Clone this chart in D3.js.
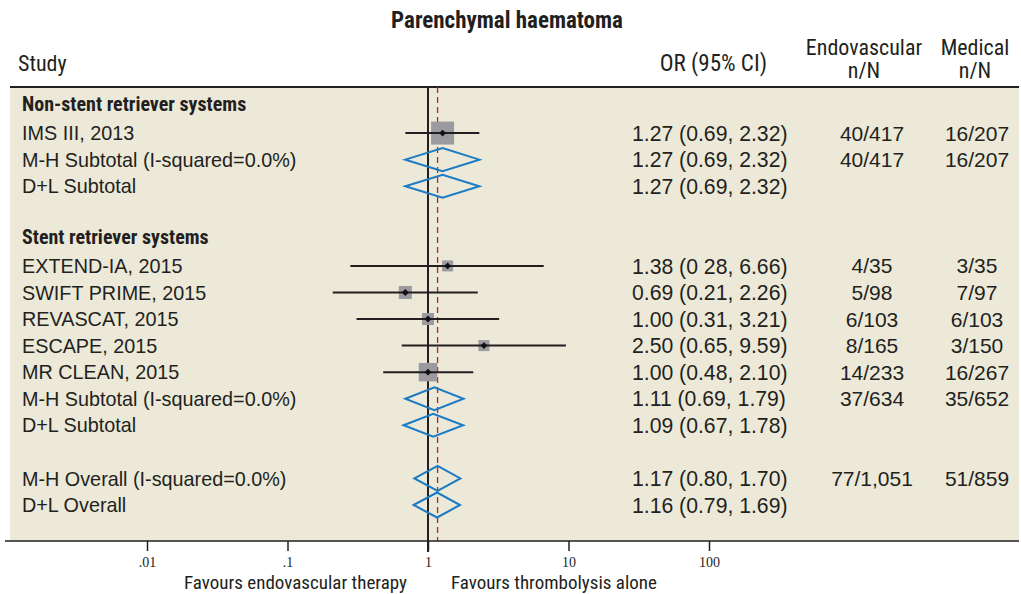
<!DOCTYPE html>
<html><head><meta charset="utf-8">
<script src="https://cdn.jsdelivr.net/npm/d3@7/dist/d3.min.js"></script>
<style>
body{margin:0;background:#fff;}
svg{display:block;}
</style></head>
<body>
<svg id="chart" width="1021" height="594"></svg>
<script>
// ---- data ----
const rowLabels = ["Non-stent retriever systems","IMS III, 2013","M-H Subtotal (I-squared=0.0%)","D+L Subtotal",
  "Stent retriever systems","EXTEND-IA, 2015","SWIFT PRIME, 2015","REVASCAT, 2015","ESCAPE, 2015","MR CLEAN, 2015",
  "M-H Subtotal (I-squared=0.0%)","D+L Subtotal","M-H Overall (I-squared=0.0%)","D+L Overall"];
const rowTypes = ["group","study","sub","sub","group","study","study","study","study","study","sub","sub","overall","overall"];
const rowSlots = [0,1,2,3,5,6,7,8,9,10,11,12,14,15];
const orValues = [null,1.27,1.27,1.27,null,1.38,0.69,1.00,2.50,1.00,1.11,1.09,1.17,1.16];
const ciLow    = [null,0.69,0.69,0.69,null,0.28,0.21,0.31,0.65,0.48,0.69,0.67,0.80,0.79];
const ciHigh   = [null,2.32,2.32,2.32,null,6.66,2.26,3.21,9.59,2.10,1.79,1.78,1.70,1.69];
const weights  = [null,37.1,null,null,null,8.5,11.9,10.1,8.5,24.0,null,null,null,null];
const orText   = ["","1.27 (0.69, 2.32)","1.27 (0.69, 2.32)","1.27 (0.69, 2.32)","","1.38 (0 28, 6.66)","0.69 (0.21, 2.26)",
  "1.00 (0.31, 3.21)","2.50 (0.65, 9.59)","1.00 (0.48, 2.10)","1.11 (0.69, 1.79)","1.09 (0.67, 1.78)","1.17 (0.80, 1.70)","1.16 (0.79, 1.69)"];
const endoText = ["","40/417","40/417","","","4/35","5/98","6/103","8/165","14/233","37/634","","77/1,051",""];
const medText  = ["","16/207","16/207","","","3/35","7/97","6/103","3/150","16/267","35/652","","51/859",""];
const tickValues = [0.01,0.1,1,10,100];
const tickLabels = [".01",".1","1","10","100"];
const overallOR = 1.17;
const title = "Parenchymal haematoma";
const favourLeft = "Favours endovascular therapy";
const favourRight = "Favours thrombolysis alone";

// ---- layout ----
const svg = d3.select("#chart");
const panel = {x0:10, x1:1019, y0:87, y1:541};
const x = d3.scaleLog().domain([0.01,100]).range([147,709]);
const y = d3.scaleLinear().domain([0,15]).range([106.5,505]);
const boxSide = d3.scaleSqrt().domain([0,37.1]).range([0,23]);

const narrow = "'Liberation Sans Narrow','Arial Narrow','Roboto Condensed','DejaVu Sans Condensed',sans-serif";
const sans = "'Liberation Sans',Arial,sans-serif";
const serif = "'Liberation Serif','Times New Roman',serif";
const textCol = "#231f20";

svg.append("rect").attr("x",panel.x0).attr("y",panel.y0).attr("width",panel.x1-panel.x0).attr("height",panel.y1-panel.y0)
  .attr("fill","#ECE9D8");
svg.append("line").attr("x1",panel.x0).attr("x2",panel.x1).attr("y1",panel.y0).attr("y2",panel.y0)
  .attr("stroke","#231f20").attr("stroke-width",2);

// title & headers
svg.append("text").attr("x",507).attr("y",28).attr("text-anchor","middle")
  .attr("font-family",narrow).attr("font-weight","bold").attr("font-size",23).attr("fill",textCol).text(title);
const hdr = svg.append("g").attr("font-family",narrow).attr("font-size",22).attr("fill",textCol);
hdr.append("text").attr("x",18).attr("y",71).text("Study");
hdr.append("text").attr("x",767).attr("y",71).attr("text-anchor","end").attr("font-size",23).text("OR (95% CI)");
hdr.append("text").attr("x",864).attr("y",55).attr("text-anchor","middle").text("Endovascular");
hdr.append("text").attr("x",864).attr("y",78).attr("text-anchor","middle").text("n/N");
hdr.append("text").attr("x",975).attr("y",55).attr("text-anchor","middle").text("Medical");
hdr.append("text").attr("x",975).attr("y",78).attr("text-anchor","middle").text("n/N");

const rows = rowLabels.map((l,i)=>({label:l,type:rowTypes[i],slot:rowSlots[i],or:orValues[i],lo:ciLow[i],hi:ciHigh[i],
  w:weights[i],ort:orText[i],endo:endoText[i],med:medText[i]}));

// reference lines
svg.append("line").attr("x1",x(1)).attr("x2",x(1)).attr("y1",panel.y0).attr("y2",panel.y1+11)
  .attr("stroke","#231f20").attr("stroke-width",2);
svg.append("line").attr("x1",x(overallOR)).attr("x2",x(overallOR)).attr("y1",panel.y0).attr("y2",panel.y1)
  .attr("stroke","#b5252b").attr("stroke-width",1.3).attr("stroke-dasharray","6,4");

// labels
const lab = svg.append("g").attr("fill",textCol);
lab.selectAll("text.lab").data(rows).join("text").attr("class","lab")
  .attr("x",22).attr("y",d=>y(d.slot)+(d.type==="group"?-3:0)).attr("dy","0.36em")
  .attr("font-family",d=>d.type==="group"?narrow:sans)
  .attr("font-weight",d=>d.type==="group"?"bold":"normal")
  .attr("font-size",d=>d.type==="group"?20:19.8)
  .text(d=>d.label);
lab.selectAll("text.ort").data(rows).join("text").attr("class","ort")
  .attr("x",632).attr("y",d=>y(d.slot)).attr("dy","0.36em").attr("font-family",sans).attr("font-size",21.2).text(d=>d.ort);
lab.selectAll("text.endo").data(rows).join("text").attr("class","endo")
  .attr("x",872).attr("y",d=>y(d.slot)).attr("dy","0.36em").attr("text-anchor","middle").attr("font-family",sans).attr("font-size",21).text(d=>d.endo);
lab.selectAll("text.med").data(rows).join("text").attr("class","med")
  .attr("x",977).attr("y",d=>y(d.slot)).attr("dy","0.36em").attr("text-anchor","middle").attr("font-family",sans).attr("font-size",21).text(d=>d.med);

// studies
const st = rows.filter(d=>d.type==="study");
svg.selectAll("rect.box").data(st).join("rect").attr("class","box")
  .attr("x",d=>x(d.or)-boxSide(d.w)/2).attr("y",d=>y(d.slot)-boxSide(d.w)/2)
  .attr("width",d=>boxSide(d.w)).attr("height",d=>boxSide(d.w)).attr("fill","#9b9a9f");
svg.selectAll("line.ci").data(st).join("line").attr("class","ci")
  .attr("x1",d=>x(d.lo)).attr("x2",d=>x(d.hi)).attr("y1",d=>y(d.slot)).attr("y2",d=>y(d.slot))
  .attr("stroke","#231f20").attr("stroke-width",2);
svg.selectAll("path.dot").data(st).join("path").attr("class","dot")
  .attr("d",d3.symbol(d3.symbolDiamond2,30)())
  .attr("transform",d=>`translate(${x(d.or)},${y(d.slot)})`).attr("fill","#111");

// diamonds
const dm = rows.filter(d=>d.type==="sub"||d.type==="overall");
svg.selectAll("path.dia").data(dm).join("path").attr("class","dia")
  .attr("d",d=>{const h=d.type==="overall"?12.5:11.5, c=y(d.slot);
    return `M${x(d.lo)},${c}L${x(d.or)},${c-h}L${x(d.hi)},${c}L${x(d.or)},${c+h}Z`;})
  .attr("fill","none").attr("stroke","#1b7bc4").attr("stroke-width",2);

// axis
svg.append("line").attr("x1",panel.x0-5).attr("x2",panel.x1).attr("y1",panel.y1).attr("y2",panel.y1)
  .attr("stroke","#231f20").attr("stroke-width",1.5);
const ax = svg.append("g").attr("transform",`translate(0,${panel.y1})`)
  .call(d3.axisBottom(x).tickValues(tickValues).tickFormat((d,i)=>tickLabels[i]).tickSize(10).tickPadding(6));
ax.select(".domain").remove();
ax.selectAll(".tick line").attr("stroke","#231f20").attr("stroke-width",1.5);
ax.selectAll(".tick text").attr("font-family",serif).attr("font-size",14).attr("fill",textCol);
svg.append("text").attr("x",407).attr("y",589).attr("text-anchor","end").attr("font-family",narrow).attr("font-size",19).attr("fill",textCol).text(favourLeft);
svg.append("text").attr("x",451).attr("y",589).attr("font-family",narrow).attr("font-size",19).attr("fill",textCol).text(favourRight);
</script>
</body></html>
